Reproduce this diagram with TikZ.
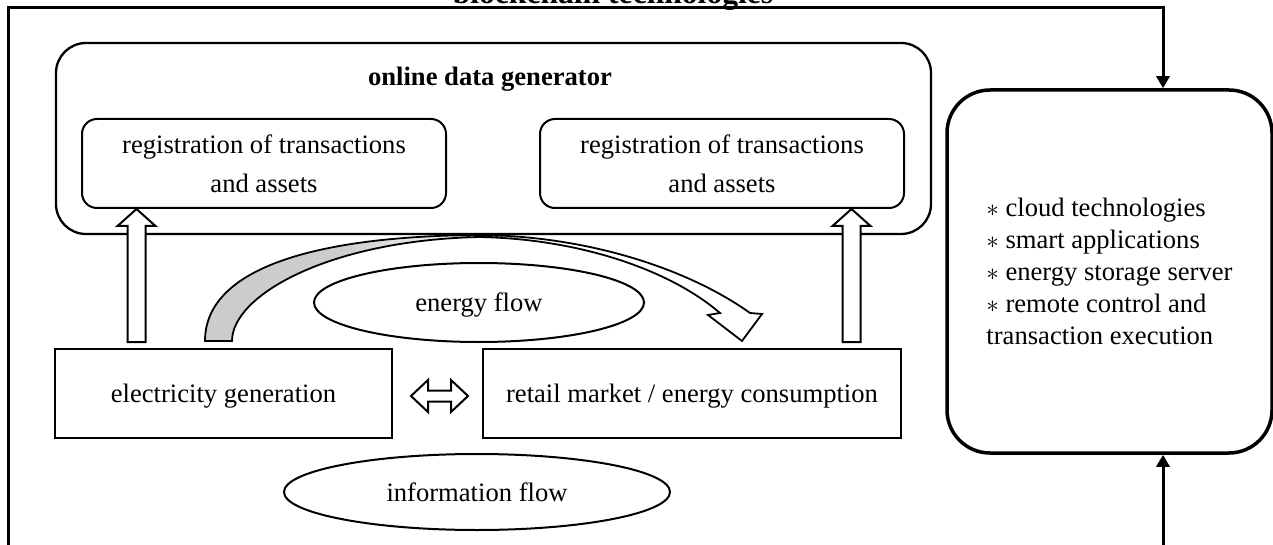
\documentclass[tikz,border=0pt]{standalone}
\usepackage{fontspec}
\setmainfont{Liberation Serif}
\usetikzlibrary{positioning,arrows.meta,calc,shapes.geometric}
\pgfdeclarehorizontalshading{fadegray}{100bp}{color(0bp)=(gray!40); color(37bp)=(gray!40); color(50bp)=(white); color(100bp)=(white)}
\tikzset{
  txt/.style={font=\fontsize{26.6}{32}\selectfont,text depth=0pt},
  gen/.style={draw,rounded corners=30pt,line width=2.3pt,minimum width=875pt,minimum height=191pt},
  reg/.style={draw,rounded corners=15pt,line width=2pt,align=center,minimum width=364pt,minimum height=89pt,font=\fontsize{26.6}{39}\selectfont,text depth=0pt},
  sq/.style={draw,line width=2pt,align=center,minimum height=89pt,txt},
  fl/.style={draw,ellipse,line width=2pt,inner sep=0pt,txt},
  srv/.style={draw,rounded corners=43pt,line width=3.5pt,align=left,minimum width=325pt,minimum height=363pt,txt},
  frm/.style={line width=3pt},
  arr/.style={frm,-{Triangle[length=12pt,width=13pt]}},
  hol/.style={draw,line width=2pt,fill=white,line join=miter},
}
\begin{document}
\begin{tikzpicture}[x=1pt,y=-1pt]
  \useasboundingbox (0,0) rectangle (1273,545);
  \clip (0,0) rectangle (1273,545);
  \node[anchor=base,font=\fontsize{31.6}{36}\selectfont\bfseries] (bct) at (613,3.5) {blockchain technologies};
  \node[gen] (gen) at (493.5,138.5) {};
  \node[anchor=base,font=\fontsize{26.6}{32}\selectfont\bfseries] (gent) at (490,86) {online data generator};
  \node[reg] (regL) at (264,163.5) {registration of transactions\\and assets};
  \node[reg,right=92pt of regL] (regR) {registration of transactions\\and assets};
  \node[sq,minimum width=337pt] (elec) at (223.5,393.5) {electricity generation};
  \node[sq,minimum width=418pt,right=89pt of elec] (retail) {retail market / energy consumption};
  \node[fl,minimum width=330pt,minimum height=79pt] (eflow) at (479,302.5) {energy flow};
  \node[fl,minimum width=386pt,minimum height=76pt] (iflow) at (477,492) {information flow};
  \node[srv] (srv) at (1109.5,271.5) {$\ast$ cloud technologies\\$\ast$ smart applications\\$\ast$ energy storage server\\$\ast$ remote control and\\transaction execution};
  % outer frame and links to the server box
  \coordinate (ftr) at (1163,7.5);
  \coordinate (fbr) at (1163,545);
  \draw[arr] (8,545) |- (ftr) -- (ftr |- srv.north);
  \draw[arr] (fbr) -- (fbr |- srv.south);
  % hollow block arrows
  \path (elec.north) ++(-87,-6) coordinate (upL);
  \path (retail.north) ++(159.5,-6) coordinate (upR);
  \foreach \b/\t in {upL/regL,upR/regR}{
    \draw[hol] let \p1=(\b), \p2=(\b |- \t.south) in
      (\x1-9pt,\y1) -- (\x1-9pt,\y2-17pt) -- (\x1-19pt,\y2-17pt) -- (\x1,\y2)
      -- (\x1+19pt,\y2-17pt) -- (\x1+9pt,\y2-17pt) -- (\x1+9pt,\y1) -- cycle;
  }
  \coordinate (dmid) at ($(elec.east)!0.5!(retail.west)$);
  \draw[hol] (dmid) ++(-26.5,2.5) -- ++(17,-16) -- ++(0,10.5) -- ++(23,0) -- ++(0,-10.5)
    -- ++(17,16) -- ++(-17,16) -- ++(0,-10.5) -- ++(-23,0) -- ++(0,10.5) -- cycle;
  % curved energy arrow
  \shadedraw[line width=1.8pt,shading=fadegray]
    (205,341) .. controls (205,270) and (310,236) .. (480,235)
    .. controls (590,236) and (690,270) .. (750,313) -- (762,314) -- (742,341)
    -- (708,315) -- (720,313) .. controls (670,270) and (580,239) .. (480,237)
    .. controls (330,240) and (232,295) .. (232,341) -- cycle;
\end{tikzpicture}
\end{document}
